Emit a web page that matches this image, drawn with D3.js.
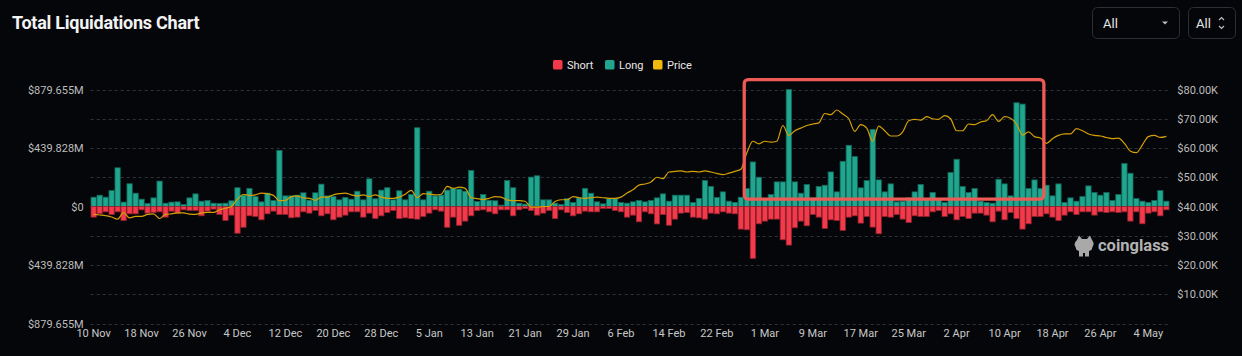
<!DOCTYPE html>
<html><head><meta charset="utf-8">
<script src="https://cdn.jsdelivr.net/npm/d3@7"></script>
<style>
html,body{margin:0;padding:0;background:#050609;}
svg{display:block;}
text{font-family:Roboto,"Noto Sans",sans-serif;}
</style></head>
<body>
<svg id="c" width="1242" height="356"></svg>
<script>
// ---- data ----
const startDay = "2023-11-10";
const endDay = "2024-05-08"; // exclusive
const longLiq = [70,85,70,120,291,33,171,100,55,23,65,191,25,33,35,15,65,95,40,45,
25,23,25,43,141,85,136,75,35,100,45,422,80,80,85,103,48,103,168,80,
75,50,68,55,115,50,208,58,123,141,50,118,50,90,592,50,115,80,85,123,
136,131,115,271,38,90,45,43,10,196,141,25,18,221,231,50,50,25,15,60,
30,65,136,100,35,20,60,60,30,25,35,45,35,45,65,95,40,85,85,85,
30,60,196,151,68,110,40,30,70,135,335,220,60,90,185,185,879.655,185,100,165,
65,150,160,260,110,340,460,375,140,195,580,200,110,170,35,40,65,110,165,55,
105,60,30,255,355,150,105,135,40,30,25,205,170,80,780,770,135,200,135,160,
80,170,30,65,40,75,155,105,85,105,45,90,323,250,60,40,30,45,120,40];
const shortLiq = [80,55,40,60,40,105,55,55,25,50,45,40,80,35,50,25,30,30,70,35,
20,60,105,65,201,156,70,75,100,55,35,60,60,85,80,40,50,30,70,55,
100,80,65,40,40,80,50,90,70,45,30,90,85,90,95,75,50,25,35,156,
80,141,110,70,30,25,40,55,25,25,70,25,15,30,65,50,30,90,25,45,
70,55,35,40,40,15,15,30,40,80,65,115,40,55,131,60,141,95,50,45,
80,85,95,50,55,40,50,55,170,175,390,130,110,95,95,250,290,160,110,145,
60,80,165,100,105,180,80,70,125,75,155,205,75,80,60,95,120,70,75,75,
40,30,75,55,100,75,90,50,50,65,115,35,100,45,90,170,130,75,75,55,
80,105,65,40,60,40,40,65,40,45,40,45,40,110,40,130,50,40,70,25];
const price = [37.3,37.1,36.9,36.4,35.7,37.9,36.1,36.6,36.6,37.3,37.5,35.9,37.3,37.5,37.8,37.8,37.4,37.3,37.8,38.0,
38.0,38.9,39.4,40.0,42.5,44.1,43.8,44.0,44.6,44.4,43.8,42.0,42.1,43.4,43.6,42.9,42.8,42.1,43.2,43.2,
44.0,44.4,44.6,44.0,43.6,44.0,43.4,44.0,43.2,42.8,42.8,43.2,44.2,45.5,43.0,44.4,44.2,44.0,44.2,46.9,
46.2,46.6,46.2,43.0,42.7,42.4,42.8,43.4,43.2,42.2,42.0,42.0,41.8,39.8,39.8,40.0,40.0,41.7,42.3,42.3,
43.4,43.0,42.8,43.0,43.2,43.0,42.8,42.8,43.2,44.6,45.7,47.3,47.7,48.4,50.0,49.5,51.8,52.0,52.2,51.8,
52.0,51.8,52.2,51.8,51.3,50.9,51.4,52.0,52.7,58.4,62.3,61.4,62.3,62.0,62.3,67.7,64.3,65.9,66.8,67.7,
68.2,68.6,71.8,71.4,73.0,71.6,70.0,65.7,68.0,66.8,62.3,67.5,65.9,64.1,64.1,65.5,69.3,69.8,69.5,70.7,
70.0,69.8,71.1,70.0,65.9,65.9,68.2,68.0,68.9,69.3,71.4,69.1,70.7,70.2,68.2,64.4,65.5,63.9,63.4,61.6,
63.2,64.3,64.8,64.8,66.6,65.9,64.8,64.3,64.1,63.6,63.2,63.4,61.6,58.9,58.4,61.1,63.9,64.3,63.6,64.0];
const leftTicks = [-879.655, -439.828, 0, 439.828, 879.655];
const rightTicks = [10, 20, 30, 40, 50, 60, 70, 80];
const gridTicks = [0, 10, 20, 30, 40, 50, 60, 70, 80];
const legendItems = ["Short", "Long", "Price"];
const highlightDays = ["2024-02-27", "2024-04-17"];
const highlightPrice = [42.5, 83.4];

// ---- build ----
const parse = d3.timeParse("%Y-%m-%d");
const days = d3.timeDay.range(parse(startDay), parse(endDay));
const rows = days.map((d, i) => ({d, long: longLiq[i], short: shortLiq[i], price: price[i]}));

const svg = d3.select("#c");
const W = 1242;
const plotL = 90.7, plotR = 1169.3, plotT = 89.5, plotB = 323.5;
const C = {bg:"#050609", long:"#20a68e", longS:"#12675a", short:"#f23a4b", shortS:"#93222e",
  price:"#d4a006", priceLeg:"#f0b90b", grid:"#30333a", axis:"#bdbdbd", hl:"#ee5a55"};

svg.append("rect").attr("width", W).attr("height", 356).attr("fill", C.bg);

const x = d3.scaleBand().domain(days.map(d => +d)).range([plotL, plotR]).paddingInner(0.12).paddingOuter(0.05);
const maxV = d3.max(longLiq);
const yL = d3.scaleLinear().domain([-maxV, maxV]).range([plotB, plotT]);
const yR = d3.scaleLinear().domain([0, 80]).range([plotB, plotT]);

// title
svg.append("text").attr("x", 12).attr("y", 29).text("Total Liquidations Chart")
  .attr("font-family", "Inter, Roboto, sans-serif").attr("font-weight", 700)
  .attr("font-size", 18).attr("letter-spacing", -0.25).attr("fill", "#f3f3f3");

// dropdowns
const dd = svg.append("g");
dd.append("rect").attr("x", 1092.5).attr("y", 7.5).attr("width", 87).attr("height", 31).attr("rx", 5)
  .attr("fill", "none").attr("stroke", "#2c2f36");
dd.append("text").attr("x", 1103).attr("y", 28).text("All").attr("font-size", 13).attr("fill", "#e6e6e6");
dd.append("path").attr("d", "M1162,21.5 L1168,21.5 L1165,24.5 Z").attr("fill", "#bbbbbb");
dd.append("rect").attr("x", 1188.5).attr("y", 7.5).attr("width", 47).attr("height", 31).attr("rx", 5)
  .attr("fill", "none").attr("stroke", "#2c2f36");
dd.append("text").attr("x", 1196).attr("y", 28).text("All").attr("font-size", 13).attr("fill", "#e6e6e6");
dd.append("path").attr("d", "M1219,20 L1221.5,17.5 L1224,20 M1219,26 L1221.5,28.5 L1224,26")
  .attr("fill", "none").attr("stroke", "#bbbbbb").attr("stroke-width", 1.2);

// legend
const legColors = [C.short, C.long, C.priceLeg];
const legX = [553, 605, 653];
const leg = svg.append("g");
legendItems.forEach((t, i) => {
  leg.append("rect").attr("x", legX[i]).attr("y", 60).attr("width", 9.5).attr("height", 9.5).attr("rx", 1.5).attr("fill", legColors[i]);
  leg.append("text").attr("x", legX[i] + 14).attr("y", 68.5).text(t).attr("font-size", 11).attr("fill", "#e8e8e8");
});

// grid
svg.append("g").selectAll("line").data(gridTicks).join("line")
  .attr("x1", plotL).attr("x2", plotR)
  .attr("y1", d => Math.round(yR(d)) + 0.5).attr("y2", d => Math.round(yR(d)) + 0.5)
  .attr("stroke", C.grid).attr("stroke-dasharray", "3,3");

// left axis
const fmtL = v => v === 0 ? "$0" : "$" + Math.abs(v).toFixed(3) + "M";
const gL = svg.append("g").attr("transform", `translate(${plotL - 7},0)`)
  .call(d3.axisLeft(yL).tickValues(leftTicks).tickFormat(fmtL).tickSize(0).tickPadding(0));
gL.select(".domain").remove();
gL.selectAll("text").attr("fill", C.axis).attr("font-size", 11).attr("font-family", "Roboto, sans-serif");

// right axis
const gR = svg.append("g").attr("transform", `translate(${plotR + 8},0)`)
  .call(d3.axisRight(yR).tickValues(rightTicks).tickFormat(v => "$" + v.toFixed(2) + "K").tickSize(0).tickPadding(0));
gR.select(".domain").remove();
gR.selectAll("text").attr("fill", C.axis).attr("font-size", 11).attr("font-family", "Roboto, sans-serif");

// x axis
const fmtX = d3.timeFormat("%-d %b");
const xTicks = days.filter((d, i) => i % 8 === 0).map(d => +d);
const gX = svg.append("g").attr("transform", `translate(0,${plotB + 6})`)
  .call(d3.axisBottom(x).tickValues(xTicks).tickFormat(v => fmtX(new Date(v))).tickSize(0).tickPadding(0));
gX.select(".domain").remove();
gX.selectAll("text").attr("fill", "#c8c8c8").attr("font-size", 11).attr("font-family", "Roboto, sans-serif");

// bars
const bars = svg.append("g");
bars.selectAll(".l").data(rows).join("rect").attr("class", "l")
  .attr("x", r => x(+r.d)).attr("width", x.bandwidth())
  .attr("y", r => yL(r.long)).attr("height", r => yL(0) - yL(r.long))
  .attr("fill", C.long).attr("stroke", C.longS).attr("stroke-width", 0.8);
bars.selectAll(".s").data(rows).join("rect").attr("class", "s")
  .attr("x", r => x(+r.d)).attr("width", x.bandwidth())
  .attr("y", yL(0)).attr("height", r => yL(-r.short) - yL(0))
  .attr("fill", C.short).attr("stroke", C.shortS).attr("stroke-width", 0.8);

// price line
const line = d3.line().x(r => x(+r.d) + x.bandwidth() / 2).y(r => yR(r.price)).curve(d3.curveMonotoneX);
svg.append("path").datum(rows).attr("d", line).attr("fill", "none")
  .attr("stroke", C.price).attr("stroke-width", 1.2);

// watermark
const wm = svg.append("g").attr("transform", "translate(1074,235)");
wm.append("path").attr("d", "M3,5 L5,0.5 L8,4 L13,4 L16,0.5 L18,5 Q21,8.5 18.5,12 L17.5,15 L15,16 L15,21.5 L11,21.5 L11,18 L9,18 L9,21.5 L5,21.5 L5,16 L2.5,15 L1.5,12 Q-1,8.5 3,5 Z")
  .attr("fill", "#a9a9a9");
wm.append("text").attr("x", 24).attr("y", 16).text("coinglass").attr("font-size", 16.5)
  .attr("font-weight", 700).attr("fill", "#b3b3b3");

// highlight box
const hx0 = x(+parse(highlightDays[0])), hx1 = x(+parse(highlightDays[1]));
svg.append("rect").attr("x", hx0).attr("y", yR(highlightPrice[1]))
  .attr("width", hx1 - hx0).attr("height", yR(highlightPrice[0]) - yR(highlightPrice[1]))
  .attr("rx", 4).attr("fill", "none").attr("stroke", C.hl).attr("stroke-width", 3.3);
</script>
</body></html>
